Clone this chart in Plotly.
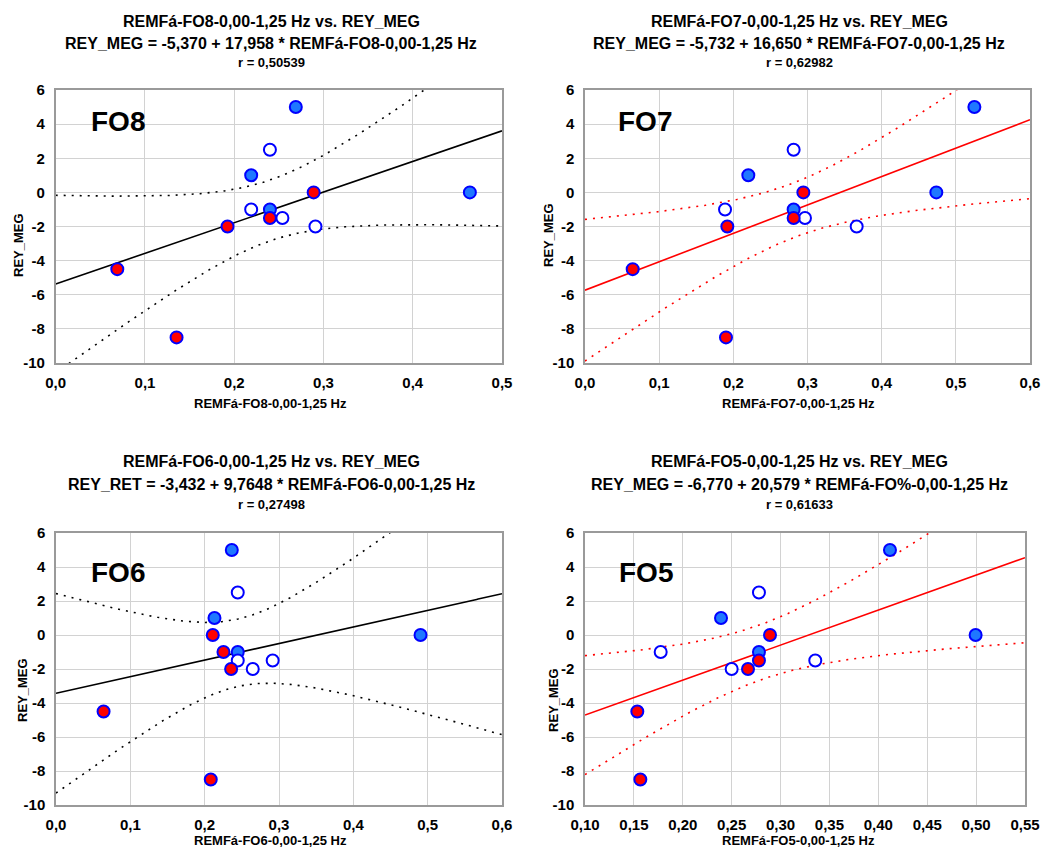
import numpy as np
import plotly.graph_objects as go

W, H = 1042, 852

# ---------------- data ----------------
rey_meg = [5, 2.5, 1, 0, 0, -1, -1, -1.5, -1.5, -2, -2, -4.5, -8.5]

fo8_x = [0.269, 0.240, 0.219, 0.289, 0.464, 0.219, 0.240, 0.240, 0.254, 0.1925, 0.291, 0.069, 0.1354]
fo8_kind = ["blue", "open", "blue", "red", "blue", "open", "blue", "red", "open", "red", "open", "red", "red"]
fo8_coef = (-5.370, 17.958)

fo7_x = [0.525, 0.2813, 0.2202, 0.2944, 0.4737, 0.1888, 0.2813, 0.2813, 0.2966, 0.1919, 0.3663, 0.0643, 0.1901]
fo7_kind = ["blue", "open", "blue", "red", "blue", "open", "blue", "red", "open", "red", "open", "red", "red"]
fo7_coef = (-5.732, 16.650)

fo6_x = [0.2365, 0.2445, 0.2132, 0.2109, 0.4904, 0.2253, 0.2445, 0.2445, 0.2915, 0.2356, 0.2647, 0.064, 0.2082]
fo6_kind = ["blue", "open", "blue", "red", "blue", "red", "blue", "open", "open", "red", "open", "red", "red"]
fo6_coef = (-3.432, 9.7648)

fo5_x = [0.4119, 0.2779, 0.2391, 0.2892, 0.4995, 0.1774, 0.2779, 0.2779, 0.3355, 0.25, 0.2667, 0.1535, 0.1566]
fo5_kind = ["blue", "open", "blue", "red", "blue", "open", "blue", "red", "open", "open", "red", "red", "red"]
fo5_coef = (-6.770, 20.579)

y_tickvals = [-10, -8, -6, -4, -2, 0, 2, 4, 6]
y_ticktext = ["-10", "-8", "-6", "-4", "-2", "0", "2", "4", "6"]
x05_tickvals = [0.0, 0.1, 0.2, 0.3, 0.4, 0.5]
x05_ticktext = ["0,0", "0,1", "0,2", "0,3", "0,4", "0,5"]
x06_tickvals = [0.0, 0.1, 0.2, 0.3, 0.4, 0.5, 0.6]
x06_ticktext = ["0,0", "0,1", "0,2", "0,3", "0,4", "0,5", "0,6"]
x55_tickvals = [0.10, 0.15, 0.20, 0.25, 0.30, 0.35, 0.40, 0.45, 0.50, 0.55]
x55_ticktext = ["0,10", "0,15", "0,20", "0,25", "0,30", "0,35", "0,40", "0,45", "0,50", "0,55"]

titles = [
    ["REMFá-FO8-0,00-1,25 Hz vs. REY_MEG", "REY_MEG = -5,370 + 17,958 * REMFá-FO8-0,00-1,25 Hz", "r = 0,50539"],
    ["REMFá-FO7-0,00-1,25 Hz vs. REY_MEG", "REY_MEG = -5,732 + 16,650 * REMFá-FO7-0,00-1,25 Hz", "r = 0,62982"],
    ["REMFá-FO6-0,00-1,25 Hz vs. REY_MEG", "REY_RET = -3,432 + 9,7648 * REMFá-FO6-0,00-1,25 Hz", "r = 0,27498"],
    ["REMFá-FO5-0,00-1,25 Hz vs. REY_MEG", "REY_MEG = -6,770 + 20,579 * REMFá-FO%-0,00-1,25 Hz", "r = 0,61633"],
]
x_titles = ["REMFá-FO8-0,00-1,25 Hz", "REMFá-FO7-0,00-1,25 Hz", "REMFá-FO6-0,00-1,25 Hz", "REMFá-FO5-0,00-1,25 Hz"]
y_title = "REY_MEG"
panel_labels = ["FO8", "FO7", "FO6", "FO5"]

T_CRIT = 2.201  # Student t 95 %, df = n - 2 = 11

# ---------------- layout helpers ----------------
FONT = "Arial, Liberation Sans, sans-serif"


def px(x):
    return x / W


def py(y):
    return 1 - y / H


def bold(labels):
    return ["<b>%s</b>" % t for t in labels]


panels = [
    dict(x=fo8_x, kind=fo8_kind, coef=fo8_coef, tv=x05_tickvals, tt=x05_ticktext, rng=(0.0, 0.5),
         dom=(55.7, 502, 90, 363), line="black", cx=271, top=True,
         lab=(118, 122), box=(72, 90, 168, 145), ytit=(18, 245)),
    dict(x=fo7_x, kind=fo7_kind, coef=fo7_coef, tv=x06_tickvals, tt=x06_ticktext, rng=(0.0, 0.6),
         dom=(585, 1030, 90, 363), line="red", cx=799, top=True,
         lab=(645, 122), box=(602, 90, 697, 145), ytit=(548, 235)),
    dict(x=fo6_x, kind=fo6_kind, coef=fo6_coef, tv=x06_tickvals, tt=x06_ticktext, rng=(0.0, 0.6),
         dom=(56, 502, 533, 805), line="black", cx=271, top=False,
         lab=(118, 572), box=(72, 533, 168, 597), ytit=(22, 690)),
    dict(x=fo5_x, kind=fo5_kind, coef=fo5_coef, tv=x55_tickvals, tt=x55_ticktext, rng=(0.10, 0.55),
         dom=(585, 1025, 533, 805), line="red", cx=799, top=False,
         lab=(646, 572), box=(602, 533, 697, 597), ytit=(553, 700)),
]

KIND_FILL = {"blue": "#1f78ff", "red": "#ff0000", "open": "#ffffff"}

fig = go.Figure()
annotations = []
shapes = []
layout = {}

for i, p in enumerate(panels):
    k = "" if i == 0 else str(i + 1)
    xa, ya = "x" + k, "y" + k
    x = np.array(p["x"], dtype=float)
    y = np.array(rey_meg, dtype=float)
    a, b = p["coef"]
    n = len(x)
    resid = y - (a + b * x)
    s = np.sqrt(np.sum(resid ** 2) / (n - 2))
    xbar = x.mean()
    sxx = np.sum((x - xbar) ** 2)
    grid = np.linspace(p["rng"][0], p["rng"][1], 300)
    fit = a + b * grid
    w = T_CRIT * s * np.sqrt(1.0 / n + (grid - xbar) ** 2 / sxx)

    col = p["line"]
    for yy in (fit + w, fit - w):
        fig.add_trace(go.Scatter(x=grid, y=yy, mode="lines", xaxis=xa, yaxis=ya,
                                 line=dict(color=col, width=1.6, dash="2px,6px"),
                                 hoverinfo="skip", showlegend=False))
    fig.add_trace(go.Scatter(x=grid, y=fit, mode="lines", xaxis=xa, yaxis=ya,
                             line=dict(color=col, width=1.6), showlegend=False))

    for kind in ("blue", "open", "red"):
        idx = [j for j, kk in enumerate(p["kind"]) if kk == kind]
        fig.add_trace(go.Scatter(
            x=[p["x"][j] for j in idx], y=[rey_meg[j] for j in idx], mode="markers",
            xaxis=xa, yaxis=ya, showlegend=False,
            marker=dict(size=12, color=KIND_FILL[kind], line=dict(color="#0000ff", width=2)),
        ))

    x0, x1, y0, y1 = p["dom"]
    axcommon = dict(showline=True, linecolor="#9a9a9a", linewidth=1.5, mirror=True,
                    showgrid=True, gridcolor="#d2d2d2", gridwidth=1, zeroline=False,
                    tickmode="array", ticks="", automargin=False,
                    tickfont=dict(family=FONT, size=15, color="black"))
    layout["xaxis" + k] = dict(axcommon, domain=[px(x0), px(x1)], range=list(p["rng"]),
                               tickvals=p["tv"], ticktext=bold(p["tt"]), anchor=ya,
                               ticklabelstandoff=5)
    layout["yaxis" + k] = dict(axcommon, domain=[py(y1), py(y0)], range=[-10, 6],
                               tickvals=y_tickvals, ticktext=bold(y_ticktext), anchor=xa,
                               ticklabelstandoff=6)

    # titles
    ys = (21.5, 43.5, 62) if p["top"] else (461, 484, 504)
    sizes = (16, 16, 13)
    for line_txt, yy, sz in zip(titles[i], ys, sizes):
        annotations.append(dict(text="<b>%s</b>" % line_txt, x=px(p["cx"]), y=py(yy),
                                xref="paper", yref="paper",
                                xanchor="center", yanchor="middle", showarrow=False,
                                font=dict(family=FONT, size=sz, color="black")))
    # x-axis title
    annotations.append(dict(text="<b>%s</b>" % x_titles[i], x=px(p["cx"] - 1), y=py(403 if p["top"] else 840),
                            xref="paper", yref="paper", xanchor="center", yanchor="middle",
                            showarrow=False, font=dict(family=FONT, size=13, color="black")))
    # y-axis title
    annotations.append(dict(text="<b>%s</b>" % y_title, x=px(p["ytit"][0]), y=py(p["ytit"][1]), textangle=-90,
                            xref="paper", yref="paper", xanchor="center", yanchor="middle",
                            showarrow=False, font=dict(family=FONT, size=13, color="black")))
    # panel label
    bx0, by0, bx1, by1 = p["box"]
    shapes.append(dict(type="rect", xref="paper", yref="paper", x0=px(bx0), x1=px(bx1),
                       y0=py(by1), y1=py(by0), fillcolor="white", line=dict(width=0), layer="between"))
    annotations.append(dict(text="<b>%s</b>" % panel_labels[i], x=px(p["lab"][0]), y=py(p["lab"][1]),
                            xref="paper", yref="paper", xanchor="center", yanchor="middle",
                            showarrow=False, font=dict(family=FONT, size=28, color="black")))

fig.update_layout(
    width=W, height=H, margin=dict(l=0, r=0, t=0, b=0, autoexpand=False),
    paper_bgcolor="white", plot_bgcolor="white",
    annotations=annotations, shapes=shapes, showlegend=False,
    **layout,
)

fig.write_html("out.html")
